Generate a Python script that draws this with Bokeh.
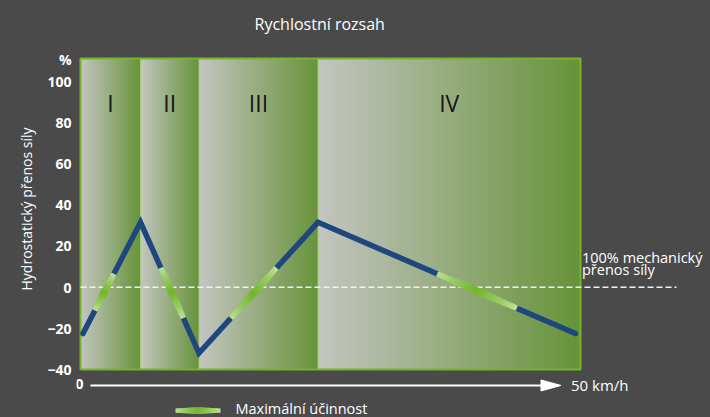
import numpy as np
from bokeh.plotting import figure
from bokeh.models import Range1d, FixedTicker, Label
from bokeh.embed import file_html
from bokeh.resources import INLINE

# ---------------- data ----------------
section_names = ["I", "II", "III", "IV"]
section_edges = [0, 12, 23.7, 47.5, 100]          # share of the speed range
line_x = [0.5, 12, 23.7, 47.5, 99]
line_y = [-22.5, 31.5, -32, 31.5, -22.5]          # hydrostatic power share (%)
eff_lo = [-11.3, -15.0, -15.0, -10.2]             # maximal efficiency band per leg
eff_hi = [6.5, 9.4, 9.4, 6.5]
y_ticks = [-40, -20, 0, 20, 40, 60, 80, 100]
y_bottom, y_top = -40, 111
arrow_x = [2, 96.1]
x_labels = ["0", "50 km/h"]

# ---------------- style ----------------
BG = "#4a4a4a"
FONT = "Open Sans"
GRAY = "#c4c5c1"
GREEN = "#67933a"
BORDER = "#74b52b"
BLUE = "#1e467f"
EFF_LIGHT = "#c2e19c"
EFF_MID = "#72b62c"
PXX, PXY = 5.0, 2.06   # pixels per data unit


def hexc(c):
    return tuple(int(c[i:i + 2], 16) for i in (1, 3, 5))


def mix(c1, c2, t):
    a, b = hexc(c1), hexc(c2)
    return "#%02x%02x%02x" % tuple(int(round(x + (y - x) * t)) for x, y in zip(a, b))


p = figure(width=710, height=417, x_range=Range1d(-0.8, 126),
           y_range=Range1d(-63.25, 139.17), output_backend="svg",
           toolbar_location=None, title=None, x_axis_type=None,
           min_border=0, min_border_left=76, min_border_right=0,
           min_border_top=0, min_border_bottom=0)
p.background_fill_color = BG
p.border_fill_color = BG
p.outline_line_color = None
p.grid.visible = False

# y axis
yax = p.yaxis[0]
yax.ticker = FixedTicker(ticks=y_ticks + [110.5], minor_ticks=[])
yax.major_label_overrides = {110.5: "%"}
yax.axis_line_color = None
yax.major_tick_line_color = None
yax.minor_tick_line_color = None
yax.major_tick_out = 0
yax.major_tick_in = 0
yax.major_label_standoff = 5
yax.major_label_text_color = "white"
yax.major_label_text_font = FONT
yax.major_label_text_font_size = "14px"
yax.major_label_text_font_style = "bold"
yax.axis_label = "Hydrostatický přenos síly"
yax.axis_label_text_color = "white"
yax.axis_label_text_font = FONT
yax.axis_label_text_font_size = "14px"
yax.axis_label_text_font_style = "normal"
yax.axis_label_standoff = 8

# gradient sections: each strip runs to the section end, later strips cover earlier
lefts, rights, cols = [], [], []
for a, b in zip(section_edges[:-1], section_edges[1:]):
    n = max(6, int(round((b - a) * PXX)))
    for k in range(n):
        lefts.append(a + (b - a) * k / n)
        rights.append(b)
        cols.append(mix(GRAY, GREEN, (k + 0.5) / n))
p.quad(left=lefts, right=rights, bottom=y_bottom, top=y_top,
       fill_color=cols, line_color=None)
p.segment(x0=section_edges[1:-1], y0=y_bottom, x1=section_edges[1:-1], y1=y_top,
          line_color="#a3cb72", line_width=1)
p.quad(left=section_edges[0], right=section_edges[-1], bottom=y_bottom, top=y_top,
       fill_color=None, line_color=BORDER, line_width=2)

# 100% mechanical reference
p.line(x=[0, 119.2], y=[0, 0], line_color="#f2f2f2", line_width=1.5, line_dash="6 3")

# main line
p.line(x=line_x, y=line_y, line_color=BLUE, line_width=5.5,
       line_cap="round", line_join="miter")


def eff_band(xa, ya, xb, yb, wmin, wmax, m=30):
    X0, Y0, X1, Y1, C, W = [], [], [], [], [], []
    for k in range(m):
        t0 = max(0.0, k / m - 0.01)
        t1 = min(1.0, (k + 1) / m + 0.01)
        tm = (k + 0.5) / m
        s = 1 - abs(2 * tm - 1)
        X0.append(xa + (xb - xa) * t0)
        Y0.append(ya + (yb - ya) * t0)
        X1.append(xa + (xb - xa) * t1)
        Y1.append(ya + (yb - ya) * t1)
        C.append(mix(EFF_LIGHT, EFF_MID, s ** 0.8))
        W.append(wmin + (wmax - wmin) * s)
    p.segment(x0=X0, y0=Y0, x1=X1, y1=Y1, line_color=C, line_width=W, line_cap="butt")


for i in range(len(line_x) - 1):
    x0, y0, x1, y1 = line_x[i], line_y[i], line_x[i + 1], line_y[i + 1]

    def x_at(y):
        return x0 + (y - y0) * (x1 - x0) / (y1 - y0)

    ya, yb = (eff_lo[i], eff_hi[i]) if y1 > y0 else (eff_hi[i], eff_lo[i])
    eff_band(x_at(ya), ya, x_at(yb), yb, 5.5, 7.5)

# section labels
for name, a, b in zip(section_names, section_edges[:-1], section_edges[1:]):
    p.add_layout(Label(x=(a + b) / 2, y=89.2, text=name, text_align="center",
                       text_baseline="alphabetic", text_font=FONT,
                       text_font_size="23px", text_color="#161616"))

# title
p.add_layout(Label(x=47.84, y=128.0, text="Rychlostní rozsah", text_align="center",
                   text_baseline="alphabetic", text_font=FONT, text_font_size="16px",
                   text_color="white"))

# reference label
for txt, yy in [("100% mechanický", 14.5), ("přenos síly", 8.7)]:
    p.add_layout(Label(x=100.3, y=yy, text=txt, text_align="left",
                       text_baseline="alphabetic", text_font=FONT,
                       text_font_size="14.5px", text_color="white"))

# x arrow
ay = -47.7
head_len = 20 / PXX
head_half = 5.5 / PXY
p.line(x=[arrow_x[0], arrow_x[1] - head_len], y=[ay, ay], line_color="white", line_width=2)
p.patch(x=[arrow_x[1] - head_len, arrow_x[1], arrow_x[1] - head_len],
        y=[ay + head_half, ay, ay - head_half], fill_color="white", line_color="white")
p.add_layout(Label(x=-0.2, y=-47.2, text=x_labels[0], text_align="center",
                   text_baseline="alphabetic", text_font=FONT, text_font_size="14px",
                   text_font_style="bold", text_color="white"))
p.add_layout(Label(x=98.1, y=-47.6, text=x_labels[1], text_align="left",
                   text_baseline="alphabetic", text_font=FONT, text_font_size="15px",
                   text_color="white"))

# legend
eff_band(19, -59.9, 28, -59.9, 4, 7)
p.add_layout(Label(x=31, y=-58.9, text="Maximální účinnost", text_align="left",
                   text_baseline="alphabetic", text_font=FONT, text_font_size="14.5px",
                   text_color="white"))

html = file_html(p, INLINE, title="Rychlostní rozsah")
css = ("<style>html,body{margin:0!important;padding:0!important;"
       "background:%s!important;overflow:hidden!important;}</style>" % BG)
html = html.replace("</head>", css + "</head>", 1)
open("out.html", "w").write(html)
